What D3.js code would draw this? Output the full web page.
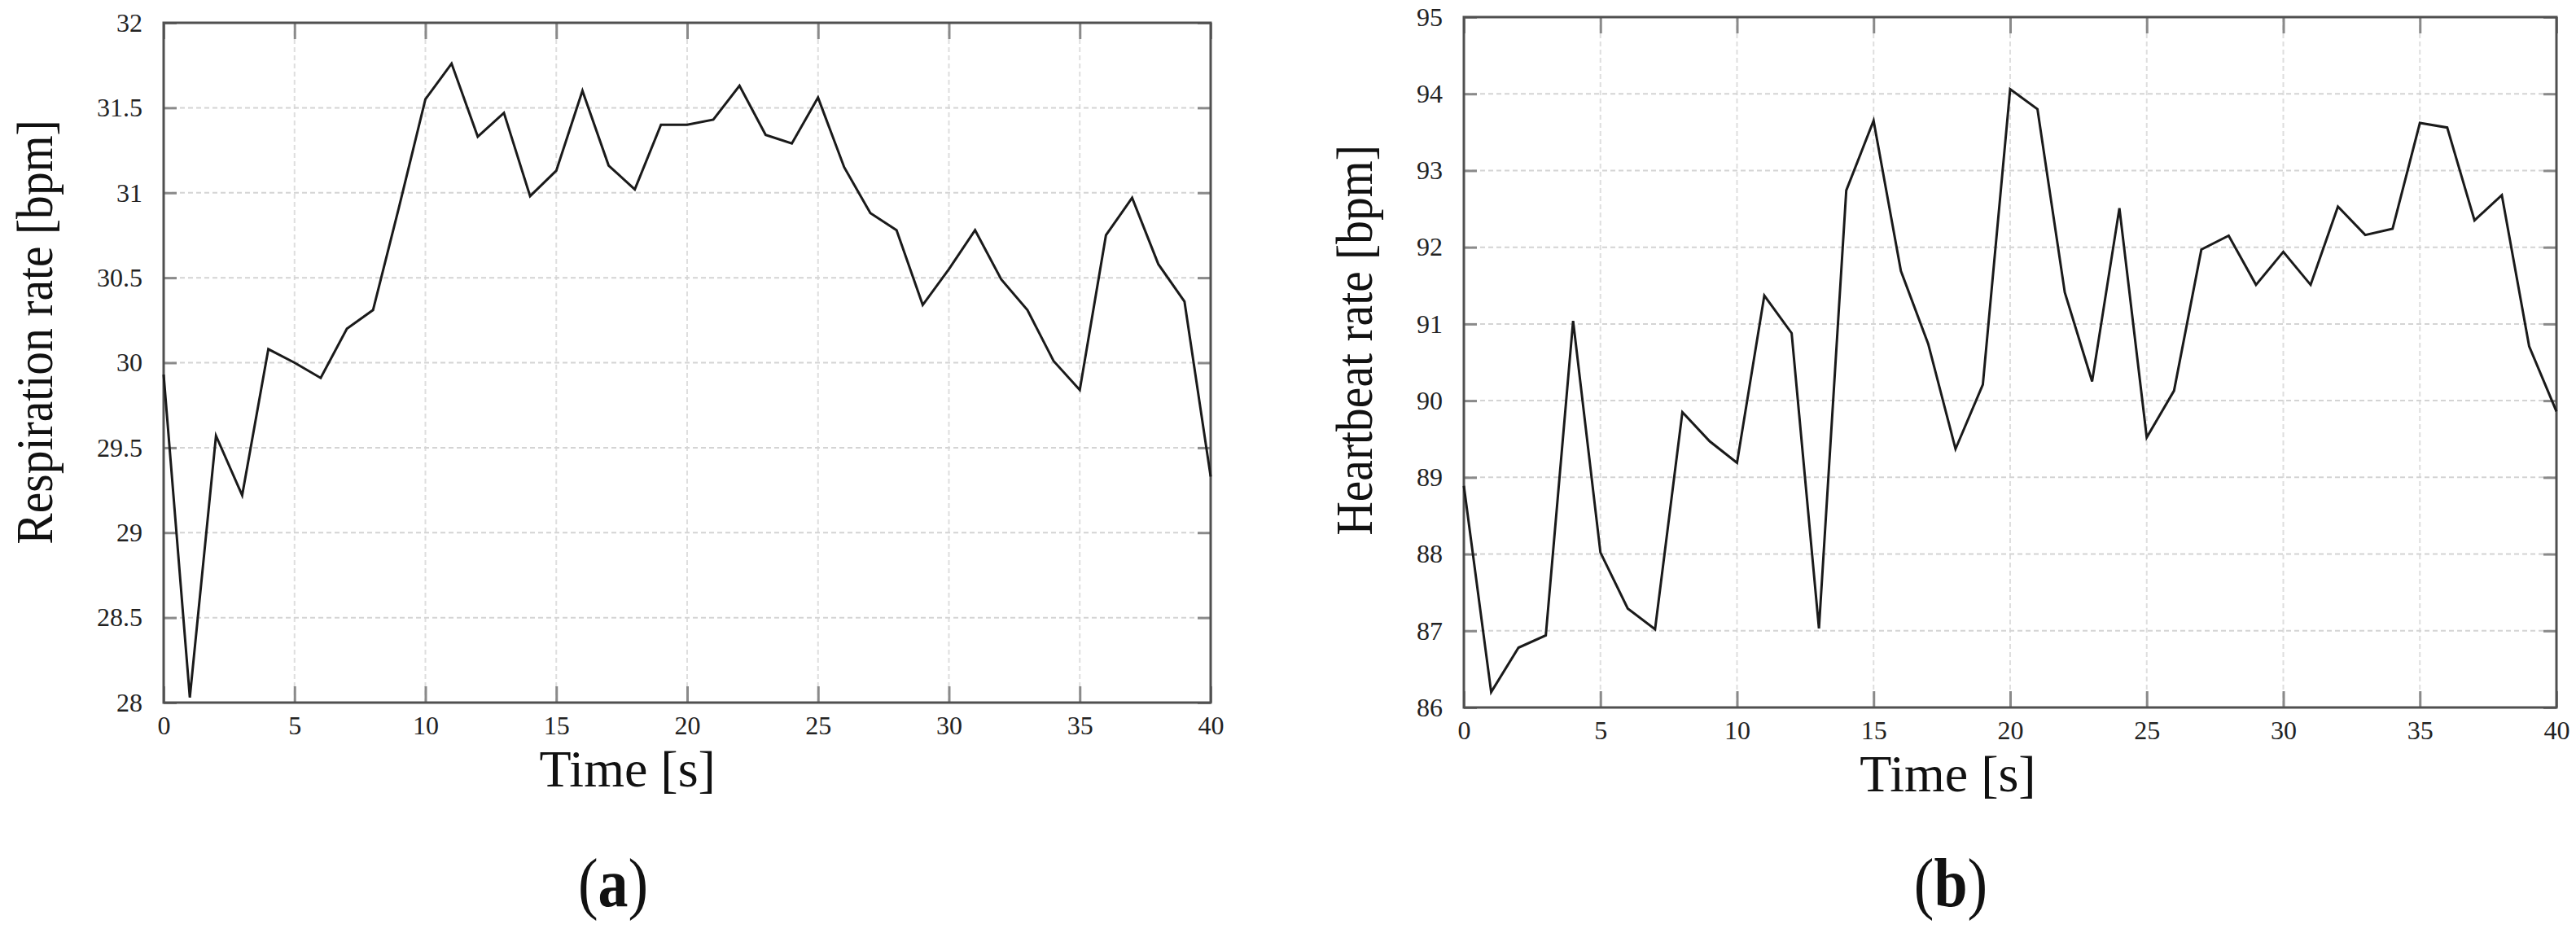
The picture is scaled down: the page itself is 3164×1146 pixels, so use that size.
<!DOCTYPE html>
<html>
<head>
<meta charset="utf-8">
<script src="https://cdn.jsdelivr.net/npm/d3@7"></script>
<style>
    body { margin: 0; background: #ffffff; }
    svg { display: block; }
</style>
</head>
<body>
<svg id="chartSvg"></svg>
<script>
// two panels: respiration rate (a) and heartbeat rate (b) over time

// data
let timeSec = [0, 1, 2, 3, 4, 5, 6, 7, 8, 9, 10, 11, 12, 13, 14, 15, 16, 17, 18, 19, 20,
    21, 22, 23, 24, 25, 26, 27, 28, 29, 30, 31, 32, 33, 34, 35, 36, 37, 38, 39, 40];

let respirationRate = [29.93, 28.03, 29.57, 29.22, 30.08, 30.00, 29.91, 30.20, 30.31, 30.92,
    31.55, 31.76, 31.33, 31.47, 30.98, 31.13, 31.60, 31.16, 31.02, 31.40,
    31.40, 31.43, 31.63, 31.34, 31.29, 31.56, 31.15, 30.88, 30.78, 30.34,
    30.55, 30.78, 30.49, 30.31, 30.01, 29.84, 30.75, 30.97, 30.58, 30.36, 29.33];

let heartbeatRate = [88.89, 86.20, 86.78, 86.94, 91.04, 88.02, 87.29, 87.02, 89.85, 89.47,
    89.19, 91.37, 90.88, 87.03, 92.74, 93.65, 91.69, 90.74, 89.37, 90.21,
    94.06, 93.80, 91.41, 90.25, 92.51, 89.52, 90.13, 91.97, 92.15, 91.51,
    91.94, 91.51, 92.53, 92.16, 92.24, 93.62, 93.56, 92.35, 92.68, 90.71, 89.86];

let timeTicks = [0, 5, 10, 15, 20, 25, 30, 35, 40];
let respirationTicks = [28, 28.5, 29, 29.5, 30, 30.5, 31, 31.5, 32];
let heartbeatTicks = [86, 87, 88, 89, 90, 91, 92, 93, 94, 95];

let svgWidth = 3164;
let svgHeight = 1146;
let serifFont = "'Liberation Serif', 'Times New Roman', serif";

function drawPanel(svg, p) {
    let x = d3.scaleLinear().domain([timeTicks[0], timeTicks[timeTicks.length - 1]]).range([p.left, p.right]);
    let y = d3.scaleLinear().domain([p.yTicks[0], p.yTicks[p.yTicks.length - 1]]).range([p.bottom, p.top]);

    let g = svg.append("g");

    // dashed grid
    g.append("g")
        .selectAll("line")
        .data(timeTicks.slice(1, -1))
        .enter()
        .append("line")
        .attr("x1", function (d) { return x(d); })
        .attr("x2", function (d) { return x(d); })
        .attr("y1", p.top)
        .attr("y2", p.bottom)
        .attr("stroke", "#dedede")
        .attr("stroke-width", 2)
        .attr("stroke-dasharray", "6,4")
    ;
    g.append("g")
        .selectAll("line")
        .data(p.yTicks.slice(1, -1))
        .enter()
        .append("line")
        .attr("x1", p.left)
        .attr("x2", p.right)
        .attr("y1", function (d) { return y(d); })
        .attr("y2", function (d) { return y(d); })
        .attr("stroke", "#d4d4d4")
        .attr("stroke-width", 2)
        .attr("stroke-dasharray", "6,4")
    ;

    // inward ticks on all four sides
    let bottomAxis = g.append("g")
        .attr("transform", "translate(0," + p.bottom + ")")
        .call(d3.axisBottom(x).tickValues(timeTicks).tickSize(-20).tickPadding(16).tickFormat(d3.format("d")));
    let topAxis = g.append("g")
        .attr("transform", "translate(0," + p.top + ")")
        .call(d3.axisTop(x).tickValues(timeTicks).tickSize(-20).tickFormat(""));
    let leftAxis = g.append("g")
        .attr("transform", "translate(" + p.left + ",0)")
        .call(d3.axisLeft(y).tickValues(p.yTicks).tickSize(-16).tickPadding(26).tickFormat(function (d) { return String(d); }));
    let rightAxis = g.append("g")
        .attr("transform", "translate(" + p.right + ",0)")
        .call(d3.axisRight(y).tickValues(p.yTicks).tickSize(-16).tickFormat(""));

    [bottomAxis, topAxis, leftAxis, rightAxis].forEach(function (a) {
        a.select(".domain").remove();
        a.selectAll(".tick line").attr("stroke", "#8a8a8a").attr("stroke-width", 3);
        a.selectAll(".tick text")
            .attr("fill", "#222")
            .style("font-family", serifFont)
            .style("font-size", "32px");
    });

    // frame
    g.append("rect")
        .attr("x", p.left)
        .attr("y", p.top)
        .attr("width", p.right - p.left)
        .attr("height", p.bottom - p.top)
        .attr("fill", "none")
        .attr("stroke", "#505050")
        .attr("stroke-width", 3)
    ;

    // the series
    let points = timeSec.map(function (t, i) { return {t: t, v: p.values[i]}; });
    g.append("path")
        .datum(points)
        .attr("d", d3.line()
            .x(function (d) { return x(d.t); })
            .y(function (d) { return y(d.v); }))
        .attr("fill", "none")
        .attr("stroke", "#1a1a1a")
        .attr("stroke-width", 3)
        .attr("stroke-linejoin", "miter")
    ;

    // axis titles
    g.append("text")
        .attr("x", p.left + (p.right - p.left) * 0.443)
        .attr("y", p.bottom + 103)
        .attr("text-anchor", "middle")
        .style("font-family", serifFont)
        .style("font-size", "64px")
        .attr("fill", "#111")
        .text("Time [s]")
    ;
    g.append("text")
        .attr("transform", "translate(" + (p.left - p.yLabelGap) + "," + p.yLabelY + ") rotate(-90) scale(0.9,1)")
        .attr("text-anchor", "middle")
        .style("font-family", serifFont)
        .style("font-size", "64px")
        .attr("fill", "#111")
        .text(p.yLabel)
    ;

    // panel letter
    let letter = g.append("text")
        .attr("transform", "translate(" + p.letterX + ",1113) scale(0.88,1)")
        .attr("text-anchor", "middle")
        .style("font-family", serifFont)
        .style("font-size", "84px")
        .attr("fill", "#111")
    ;
    letter.append("tspan").text("(");
    letter.append("tspan").style("font-weight", "bold").text(p.letter);
    letter.append("tspan").text(")");
}

let svg = d3.select("#chartSvg")
    .attr("width", svgWidth)
    .attr("height", svgHeight)
;

drawPanel(svg, {
    left: 201, right: 1487, top: 28, bottom: 863,
    yTicks: respirationTicks, values: respirationRate,
    yLabel: "Respiration rate [bpm]", yLabelGap: 137, yLabelY: 408,
    letter: "a", letterX: 753
});

drawPanel(svg, {
    left: 1798, right: 3140, top: 21, bottom: 869,
    yTicks: heartbeatTicks, values: heartbeatRate,
    yLabel: "Heartbeat rate [bpm]", yLabelGap: 113, yLabelY: 418,
    letter: "b", letterX: 2396
});
</script>
</body>
</html>
